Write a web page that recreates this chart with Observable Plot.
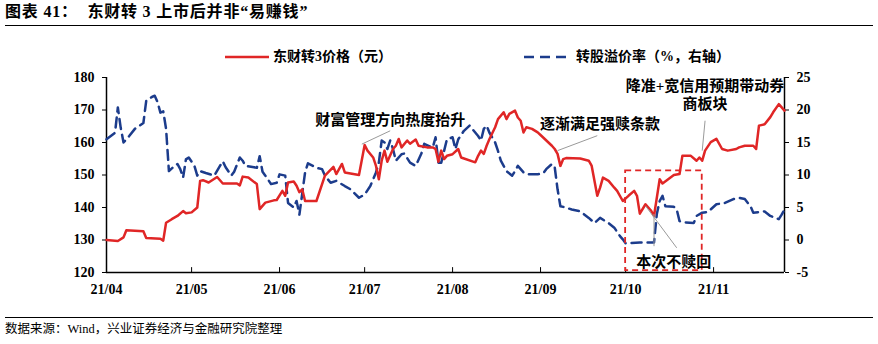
<!DOCTYPE html>
<html><head><meta charset="utf-8">
<script src="https://cdn.jsdelivr.net/npm/d3@7"></script>
<script src="https://cdn.jsdelivr.net/npm/@observablehq/plot@0.6"></script>
<style>
body{margin:0;background:#fff;}
#wrap{position:relative;width:878px;height:344px;overflow:hidden;font-family:"Liberation Serif","Noto Sans CJK SC",serif;color:#000;}
#title{position:absolute;left:5px;top:2px;font-size:16px;letter-spacing:0.8px;font-weight:bold;white-space:pre;line-height:20px;}
#trule{position:absolute;left:5px;top:25px;width:868px;border-top:1.5px solid #000;}
#chart{position:absolute;left:0;top:30px;}
.leg{position:absolute;top:47px;height:20px;line-height:20px;font-size:14px;font-weight:bold;white-space:nowrap;display:flex;align-items:center;}
.leg svg{margin-right:4px;}
#frule{position:absolute;left:5px;top:317px;width:868px;border-top:1.5px solid #000;}
#source{position:absolute;left:5px;top:320px;font-size:12.5px;line-height:18px;font-family:"Liberation Serif","Noto Sans CJK SC",serif;}
</style>
</head><body>
<div id="wrap">
  <div id="title">图表 41：  东财转 3 上市后并非“易赚钱”</div>
  <div id="trule"></div>
  <div id="chart"></div>
  <div class="leg" style="left:225px"><svg width="44" height="6"><line x1="0" y1="3" x2="44" y2="3" stroke="#e02626" stroke-width="2.5"/></svg>东财转3价格（元）</div>
  <div class="leg" style="left:524px"><svg width="48" height="6"><line x1="0" y1="3" x2="48" y2="3" stroke="#1c3c8c" stroke-width="2.5" stroke-dasharray="10,6"/></svg>转股溢价率（%，右轴）</div>
  <div id="frule"></div>
  <div id="source">数据来源：Wind，兴业证券经济与金融研究院整理</div>
</div>
<script>
const monthTicks = ["04-01","05-01","06-01","07-01","08-01","09-01","10-01","11-01"];
const leftTicks = [120,130,140,150,160,170,180];
const rightTicks = [-5,0,5,10,15,20,25];

const priceDates = ["04-01","04-05","04-07","04-08","04-14","04-15","04-20","04-21","04-22","04-24","04-26","04-28","04-29",
"05-01","05-03","05-04","05-05","05-07","05-10","05-12","05-17","05-18","05-19","05-21","05-24","05-25","05-27","05-30","05-31",
"06-02","06-03","06-04","06-06","06-07","06-08","06-09","06-10","06-14","06-17","06-20","06-21","06-23","06-24","06-29",
"07-01","07-02","07-04","07-05","07-06","07-07","07-08","07-09","07-11","07-12","07-13","07-14","07-16","07-17","07-19","07-20","07-23","07-25","07-26","07-27","07-28","07-29","07-30",
"08-01","08-03","08-04","08-09","08-10","08-11","08-12","08-13","08-14","08-16","08-17","08-19","08-20","08-21","08-23","08-24","08-25","08-26","08-27","08-29","08-31",
"09-01","09-05","09-06","09-07","09-08","09-09","09-10","09-15","09-18","09-19","09-21","09-22","09-23","09-25","09-27","09-28","09-30",
"10-02","10-04","10-05","10-06","10-08","10-09","10-10","10-11","10-13","10-14","10-16","10-18","10-20","10-21","10-24","10-26","10-27","10-28","10-29","10-31",
"11-02","11-04","11-06","11-09","11-10","11-12","11-15","11-16","11-17","11-19","11-21","11-22","11-24","11-26"];
const priceValues = [130,129.7,130.8,133,132.7,130.6,130.4,129.8,135.3,136.4,137.4,138.9,138.2,
138.5,140,148.2,148.4,147.7,149.4,147.4,147.4,146.8,149.5,149.2,147.2,139.5,141.5,142.2,142.3,
145.1,143.6,147.7,148,146.7,144.7,145.6,142,142,149.8,152.5,150.3,153.4,150.8,150,
159.2,157.5,155.4,152.8,148.7,154.4,157.5,154.1,158,159,161.1,158.5,160.6,159.6,160.9,159,158.5,158.5,158,154.1,157.5,154.9,155.9,
156.4,158,155.4,153.9,155.9,157.5,156.5,159,161.1,164.7,167.2,169.3,167.2,168.8,169.8,167.7,166.7,163.1,164.7,164.2,163.1,
162.3,159,158,156.5,152.8,154.9,155.2,155.1,154.4,152.9,143.6,146.1,149.2,148.2,146.1,145.1,142,
143.6,145.1,143.6,138.1,141,140,139,137.4,148.7,147.4,148.7,150,150.3,155.9,155.9,154.4,155.4,154.4,157.5,160.1,
161.1,158,157.5,158,158.5,159,159,158,165.2,165.6,167.8,169.3,171.8,169.8];

const premDates = ["04-01","04-04","04-05","04-06","04-07","04-09","04-11","04-14","04-15","04-17","04-18","04-19","04-20","04-21","04-22","04-23","04-25","04-26","04-27","04-28","04-29","04-30",
"05-02","05-03","05-04","05-06","05-09","05-11","05-12","05-13","05-15","05-16","05-18","05-19","05-20","05-23","05-24","05-25","05-26","05-27","05-29","05-31",
"06-01","06-03","06-04","06-06","06-07","06-08","06-10","06-11","06-14","06-16","06-17","06-19","06-21","06-24","06-26","06-29",
"07-01","07-03","07-05","07-06","07-07","07-08","07-09","07-10","07-11","07-12","07-14","07-15","07-17","07-19","07-21","07-22","07-25","07-26","07-27","07-28","07-29","07-30",
"08-01","08-02","08-03","08-05","08-07","08-10","08-11","08-12","08-13","08-14","08-16","08-17","08-18","08-20","08-22","08-23","08-24","08-26","08-28","08-31",
"09-02","09-03","09-05","09-06","09-07","09-08","09-09","09-12","09-15","09-18","09-20","09-22","09-25","09-27","09-29","09-30",
"10-01","10-06","10-11","10-12","10-13","10-14","10-15","10-18","10-19","10-20","10-22","10-25","10-26","10-28","10-30",
"11-02","11-05","11-08","11-10","11-12","11-14","11-15","11-17","11-19","11-21","11-24","11-25","11-26"];
const premValues = [15.5,16.5,20.4,17.3,15,16,17.1,18,21.4,22,22.2,21.2,19.6,19.8,17.1,10.6,11.4,11.7,10.9,9.6,12.4,12.7,
11.4,9.9,10.6,10.3,9.9,11.4,12.1,11.2,9.9,10.5,12.7,12.2,11.4,11.2,11.1,12.9,10.5,9.9,8.6,8.8,
10.1,9.9,5.7,5,6,3.9,10.4,11.8,11.1,10.9,9.9,8.8,9.1,8.3,7.8,6.5,
7,8.3,10.4,11.9,15.3,15,14,15.3,14,12.2,13.2,13.3,11.9,11.4,13.3,14.8,14.2,15.8,11.9,11.9,13.7,15.5,
15.8,14,15.5,16.8,17.6,16,15.3,17.1,17.6,16.5,15,13.7,12.2,10.6,9.9,10.6,11.4,10.4,10.1,10.1,
10.3,10.9,11.7,11.2,7.8,5.2,5.1,4.7,4.4,3.4,2.6,3.4,2.6,1.9,0.6,0.1,
-0.5,-0.4,-0.4,4,6,6.8,5.2,5.1,4.7,2.9,2.7,2.6,3.7,4.2,4.3,
5.5,5.7,6.3,6.5,6.3,5.2,4.2,4.3,4.4,3.7,3.2,3.9,4.7];

const noteDates = ["07-10","09-22","10-29","10-18"];
const noteValues = [167.3,165.8,174.8,123.5];
const noteTexts = ["财富管理方向热度抬升","逐渐满足强赎条款","降准+宽信用预期带动券\n商板块","本次不赎回"];

const leaderX1 = ["07-10","09-21","10-29","10-11","10-19"];
const leaderY1 = [163.6,162.1,166.7,128.1,127.6];
const leaderX2 = ["06-30","09-07","10-28","10-11","10-08"];
const leaderY2 = [159.5,157.5,157.5,138,140.5];

const boxX = ["10-01","10-28"];
const boxY = [120.6,151.3];

const red = "#e02626", blue = "#1c3c8c";
const parse = s => new Date("2021-" + s + "T00:00:00Z");
const toLeft = p => 130 + 2 * p;

const price = priceDates.map((d, i) => ({date: parse(d), value: priceValues[i]}));
const prem = premDates.map((d, i) => ({date: parse(d), value: toLeft(premValues[i])}));
const notes = noteDates.map((d, i) => ({date: parse(d), value: noteValues[i], text: noteTexts[i]}));
const leaders = leaderX1.map((d, i) => ({x1: parse(d), y1: leaderY1[i], x2: parse(leaderX2[i]), y2: leaderY2[i]}));
const box = [{x1: parse(boxX[0]), x2: parse(boxX[1]), y1: boxY[0], y2: boxY[1]}];
const months = monthTicks.map(parse);
const xDomain = [parse("04-01"), parse("11-26")];

const chart = Plot.plot({
  width: 878, height: 270,
  marginLeft: 106, marginRight: 94, marginTop: 47, marginBottom: 28,
  style: {fontFamily: '"Liberation Serif","Noto Sans CJK SC",serif', fontSize: "14px", fontWeight: "bold", color: "#000", background: "transparent", overflow: "visible"},
  x: {type: "utc", domain: xDomain},
  y: {domain: [120, 180]},
  marks: [
    Plot.axisY({ticks: leftTicks, tickSize: 4, tickPadding: 8, label: null, tickFormat: d => String(d)}),
    Plot.axisY({anchor: "right", ticks: rightTicks.map(toLeft), tickSize: 4, tickPadding: 8, label: null, tickFormat: d => String((d - 130) / 2)}),
    Plot.axisX({ticks: months, tickSize: 0, tickPadding: 12, label: null, tickFormat: d3.utcFormat("%y/%m")}),
    Plot.ruleX(months, {y1: 120, y2: 121.5, stroke: "#000", strokeWidth: 1}),
    Plot.ruleY([120], {stroke: "#000", strokeWidth: 1.5}),
    Plot.ruleX(xDomain, {stroke: "#000", strokeWidth: 1.5}),
    Plot.line(prem, {x: "date", y: "value", stroke: blue, strokeWidth: 2.5, strokeDasharray: "10,6"}),
    Plot.line(price, {x: "date", y: "value", stroke: red, strokeWidth: 2.5}),
    Plot.rect(box, {x1: "x1", x2: "x2", y1: "y1", y2: "y2", fill: "none", stroke: red, strokeWidth: 1.8, strokeDasharray: "6,4"}),
    Plot.link(leaders, {x1: "x1", y1: "y1", x2: "x2", y2: "y2", stroke: "#9a9a9a", strokeWidth: 1}),
    Plot.text(notes, {x: "date", y: "value", text: "text", fontSize: 15, fontWeight: "bold", fill: "#000", lineHeight: 1.2})
  ]
});
document.getElementById("chart").appendChild(chart);
</script>
</body></html>
